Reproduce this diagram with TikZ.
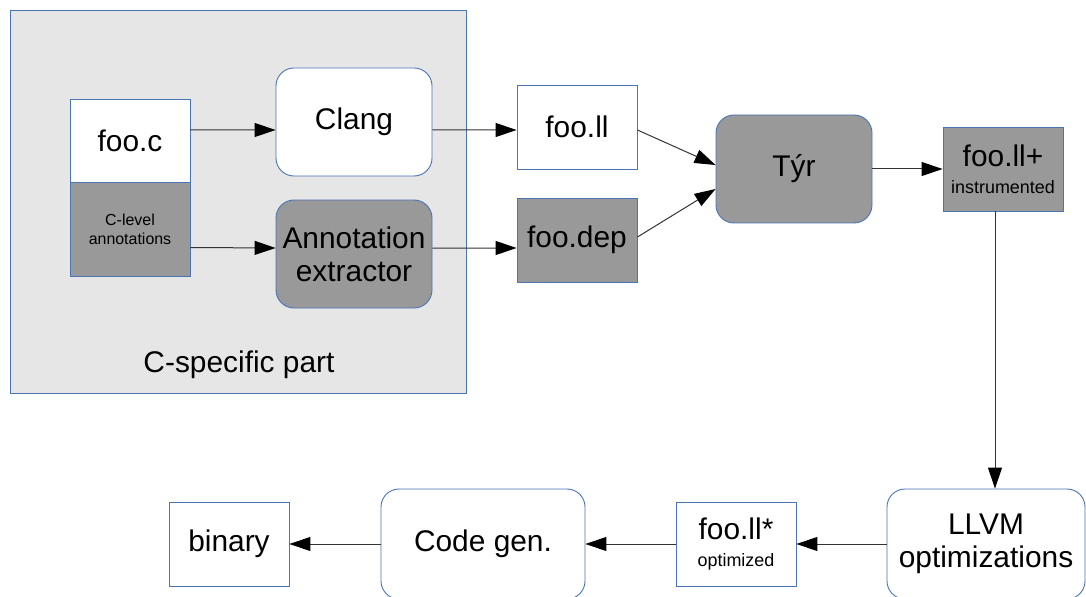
\documentclass[tikz,border=0pt]{standalone}
\usepackage{fontspec}
\setmainfont{Liberation Sans}
\usetikzlibrary{arrows.meta,positioning}
\definecolor{edgeblue}{HTML}{4A74B4}
\definecolor{boxgray}{HTML}{999999}
\definecolor{partgray}{HTML}{E6E6E6}
\newcommand{\subtext}[1]{{\fontsize{18}{20}\selectfont #1}}

\begin{document}
\begin{tikzpicture}[%
       x=1bp, y=-1bp,
       >={Triangle[length=21bp,width=14bp,black]},
       on grid,
       line width=0.9bp,
       datafile/.style={draw=edgeblue, fill=white, minimum width=120bp,
         minimum height=84bp, inner sep=0pt, align=center,
         font=\fontsize{30}{33}\selectfont},
       process/.style={datafile, rounded corners=18bp, minimum width=156bp,
         minimum height=108bp},
       darkbox/.style={fill=boxgray},
       flow/.style={->, draw=black!80, line width=1bp}
     ]
     \useasboundingbox (0,0) rectangle (1086,597);

     % C-specific part
     \draw[draw=edgeblue, fill=partgray] (10,10) rectangle (466,393);
     \node[font=\fontsize{30}{33}\selectfont] (cpart) at (239,365) {C-specific part};

     \node[datafile]			(fooc)		at (130,141)		{foo.c};
     \node[datafile,darkbox,minimum height=94bp,font=\fontsize{16}{19}\selectfont]
     					(cann)		[below=88.5bp of fooc]	{C-level\\annotations};
     \node[process]			(clang)		at (354,122)		{Clang};
     \node[process,darkbox]		(extr)		[below=132bp of clang]	{Annotation\\extractor};

     % IR part
     \node[datafile]			(ll)		at (577,127)		{foo.ll};
     \node[datafile,darkbox]		(dep)		[below=113bp of ll]	{foo.dep};
     \node[process,darkbox]		(tyr)		at (794,169)		{Týr};
     \node[datafile,darkbox]		(llp)		[right=209bp of tyr]	{foo.ll+\\[-6bp]\subtext{instrumented}};

     % backend
     \node[datafile]			(binary)	at (229,544)		{binary};
     \node[process,minimum width=204bp,minimum height=110bp]
     					(codegen)	[right=254bp of binary]	{Code gen.};
     \node[datafile]			(llstar)	[right=253bp of codegen]	{foo.ll*\\[-6bp]\subtext{optimized}};
     \node[process,minimum width=198bp,minimum height=110bp]
     					(llvm)		[right=250bp of llstar]	{LLVM\\optimizations};

     \draw[flow] ([yshift=11bp]fooc.east)	--	([yshift=-8bp]clang.west);
     \draw[flow] ([yshift=-8bp]clang.east)	--	([yshift=-3bp]ll.west);
     \draw[flow] ([yshift=-18bp]cann.east)	--	([yshift=6bp]extr.west);
     \draw[flow] ([yshift=6bp]extr.east)	--	([yshift=-8bp]dep.west);
     \draw[flow] ([yshift=-3bp]ll.east)		--	([yshift=4bp]tyr.west);
     \draw[flow] ([yshift=3bp]dep.east)		--	([yshift=-20bp]tyr.west);
     \draw[flow] (tyr.east)			--	(tyr.east -| llp.west);
     \draw[flow] ([xshift=-8bp]llp.south)	--	([xshift=-8bp]llp.south |- llvm.north);
     \draw[flow] (llvm.west)			--	(llstar.east);
     \draw[flow] (llstar.west)			--	(codegen.east);
     \draw[flow] (codegen.west)			--	(binary.east);
\end{tikzpicture}
\end{document}
